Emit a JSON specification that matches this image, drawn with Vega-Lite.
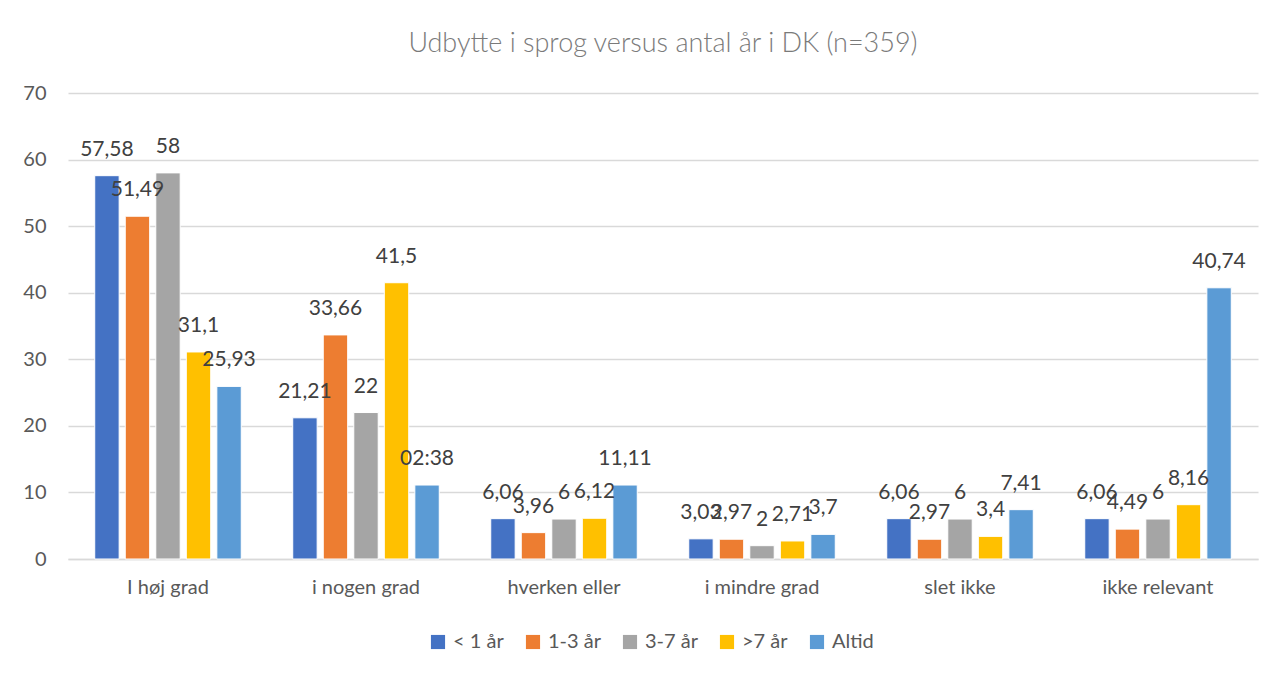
{
  "$schema": "https://vega.github.io/schema/vega-lite/v6.json",
  "autosize": {"type": "none"},
  "width": 1190,
  "height": 466,
  "padding": {"left": 68, "top": 93, "right": 28, "bottom": 120},
  "background": "white",
  "title": {
    "text": "Udbytte i sprog versus antal år i DK (n=359)",
    "anchor": "middle",
    "font": "Lato",
    "fontSize": 27,
    "fontWeight": 300,
    "color": "#7a7a7a",
    "offset": 25
  },
  "config": {
    "font": "Lato",
    "view": {"stroke": null}
  },
  "data": {
    "values": [
      {"cat": "I høj grad", "grp": "< 1 år", "value": 57.58, "label": "57,58"},
      {"cat": "I høj grad", "grp": "1-3 år", "value": 51.49, "label": "51,49"},
      {"cat": "I høj grad", "grp": "3-7 år", "value": 58, "label": "58"},
      {"cat": "I høj grad", "grp": ">7 år", "value": 31.1, "label": "31,1"},
      {"cat": "I høj grad", "grp": "Altid", "value": 25.93, "label": "25,93"},
      {"cat": "i nogen grad", "grp": "< 1 år", "value": 21.21, "label": "21,21"},
      {"cat": "i nogen grad", "grp": "1-3 år", "value": 33.66, "label": "33,66"},
      {"cat": "i nogen grad", "grp": "3-7 år", "value": 22, "label": "22"},
      {"cat": "i nogen grad", "grp": ">7 år", "value": 41.5, "label": "41,5"},
      {"cat": "i nogen grad", "grp": "Altid", "value": 11.11, "label": "02:38"},
      {"cat": "hverken eller", "grp": "< 1 år", "value": 6.06, "label": "6,06"},
      {"cat": "hverken eller", "grp": "1-3 år", "value": 3.96, "label": "3,96"},
      {"cat": "hverken eller", "grp": "3-7 år", "value": 6, "label": "6"},
      {"cat": "hverken eller", "grp": ">7 år", "value": 6.12, "label": "6,12"},
      {"cat": "hverken eller", "grp": "Altid", "value": 11.11, "label": "11,11"},
      {"cat": "i mindre grad", "grp": "< 1 år", "value": 3.03, "label": "3,03"},
      {"cat": "i mindre grad", "grp": "1-3 år", "value": 2.97, "label": "2,97"},
      {"cat": "i mindre grad", "grp": "3-7 år", "value": 2, "label": "2"},
      {"cat": "i mindre grad", "grp": ">7 år", "value": 2.71, "label": "2,71"},
      {"cat": "i mindre grad", "grp": "Altid", "value": 3.7, "label": "3,7"},
      {"cat": "slet ikke", "grp": "< 1 år", "value": 6.06, "label": "6,06"},
      {"cat": "slet ikke", "grp": "1-3 år", "value": 2.97, "label": "2,97"},
      {"cat": "slet ikke", "grp": "3-7 år", "value": 6, "label": "6"},
      {"cat": "slet ikke", "grp": ">7 år", "value": 3.4, "label": "3,4"},
      {"cat": "slet ikke", "grp": "Altid", "value": 7.41, "label": "7,41"},
      {"cat": "ikke relevant", "grp": "< 1 år", "value": 6.06, "label": "6,06"},
      {"cat": "ikke relevant", "grp": "1-3 år", "value": 4.49, "label": "4,49"},
      {"cat": "ikke relevant", "grp": "3-7 år", "value": 6, "label": "6"},
      {"cat": "ikke relevant", "grp": ">7 år", "value": 8.16, "label": "8,16"},
      {"cat": "ikke relevant", "grp": "Altid", "value": 40.74, "label": "40,74"}
    ]
  },
  "encoding": {
    "x": {
      "field": "cat",
      "type": "nominal",
      "sort": ["I høj grad", "i nogen grad", "hverken eller", "i mindre grad", "slet ikke", "ikke relevant"],
      "scale": {"paddingInner": 0.26, "paddingOuter": 0.135},
      "axis": {
        "title": null,
        "labelAngle": 0,
        "labelFontSize": 20,
        "labelColor": "#595959",
        "labelPadding": 18,
        "ticks": false,
        "domainColor": "#d9d9d9",
        "domainWidth": 1.5
      }
    },
    "xOffset": {
      "field": "grp",
      "type": "nominal",
      "sort": ["< 1 år", "1-3 år", "3-7 år", ">7 år", "Altid"],
      "scale": {"paddingInner": 0.2, "paddingOuter": 0}
    },
    "y": {
      "field": "value",
      "type": "quantitative",
      "scale": {"domain": [0, 70], "nice": false},
      "axis": {
        "title": null,
        "values": [0, 10, 20, 30, 40, 50, 60, 70],
        "labelFontSize": 20,
        "labelColor": "#595959",
        "labelPadding": 22,
        "ticks": false,
        "domain": false,
        "gridColor": "#d9d9d9",
        "gridWidth": 1.5
      }
    }
  },
  "layer": [
    {
      "mark": {"type": "bar", "stroke": "white", "strokeWidth": 1},
      "encoding": {
        "color": {
          "field": "grp",
          "type": "nominal",
          "sort": ["< 1 år", "1-3 år", "3-7 år", ">7 år", "Altid"],
          "scale": {
            "domain": ["< 1 år", "1-3 år", "3-7 år", ">7 år", "Altid"],
            "range": ["#4472C4", "#ED7D31", "#A5A5A5", "#FFC000", "#5B9BD5"]
          },
          "legend": {
            "title": null,
            "orient": "none",
            "legendX": 360,
            "legendY": 539,
            "direction": "horizontal",
            "symbolType": "square",
            "symbolSize": 200,
            "symbolStrokeWidth": 0,
            "labelFontSize": 20,
            "labelColor": "#595959",
            "labelOffset": 5,
            "columnPadding": 19
          }
        }
      }
    },
    {
      "mark": {
        "type": "text",
        "baseline": "middle",
        "dy": -26,
        "fontSize": 21,
        "color": "#404040"
      },
      "encoding": {
        "text": {"field": "label", "type": "nominal"}
      }
    }
  ]
}
